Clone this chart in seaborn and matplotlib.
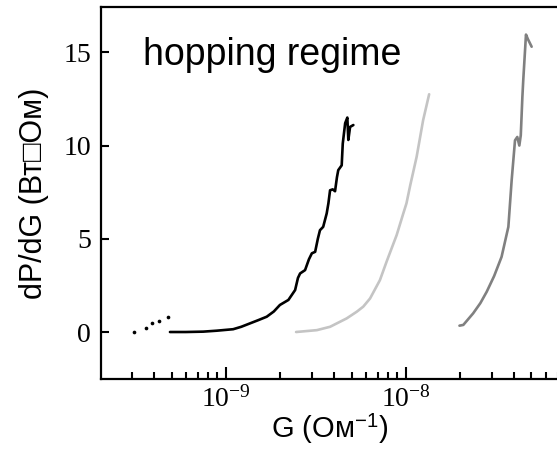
import math
import matplotlib
matplotlib.use("Agg")
import matplotlib.pyplot as plt
import matplotlib.ticker as mticker
import seaborn as sns

# ---- data ----
dots_G = [3.10e-10, 3.60e-10, 3.88e-10, 4.27e-10, 4.80e-10]
dots_P = [0.02, 0.23, 0.47, 0.61, 0.82]

black_G = [4.9e-10, 6.0e-10, 7.5e-10, 8.9e-10, 1.10e-9, 1.22e-9, 1.37e-9, 1.52e-9, 1.69e-9,
           1.85e-9, 2.00e-9,
           2.23e-9, 2.43e-9, 2.52e-9, 2.59e-9, 2.76e-9, 2.90e-9, 3.01e-9, 3.14e-9,
           3.25e-9, 3.34e-9, 3.48e-9, 3.64e-9, 3.72e-9, 3.80e-9, 3.93e-9, 4.05e-9,
           4.15e-9, 4.22e-9, 4.41e-9, 4.47e-9, 4.61e-9, 4.74e-9, 4.80e-9, 4.91e-9, 5.12e-9]
black_P = [0.0, 0.0, 0.02, 0.07, 0.15, 0.28, 0.47, 0.64, 0.82,
           1.1, 1.45,
           1.72, 2.25, 2.9, 3.14, 3.32, 3.9, 4.22, 4.3,
           5.0, 5.46, 5.64, 6.36, 6.9, 7.6, 7.65, 7.55,
           8.3, 8.68, 8.94, 10.1, 11.2, 11.5, 10.3, 11.0, 11.1]

light_G = [2.46e-9, 3.21e-9, 3.80e-9, 4.70e-9, 5.35e-9, 5.81e-9, 6.34e-9, 7.19e-9, 7.83e-9,
           8.91e-9, 9.70e-9, 1.01e-8, 1.06e-8, 1.15e-8, 1.25e-8, 1.35e-8]
light_P = [0.0, 0.1, 0.28, 0.73, 1.09, 1.36, 1.8, 2.78, 3.77,
           5.2, 6.36, 6.9, 7.87, 9.39, 11.36, 12.75]

dark_G = [1.99e-8, 2.09e-8, 2.37e-8, 2.60e-8, 2.82e-8, 3.10e-8, 3.41e-8, 3.72e-8, 3.88e-8, 4.05e-8,
          4.17e-8, 4.28e-8, 4.36e-8, 4.45e-8, 4.50e-8, 4.66e-8, 4.78e-8, 5.01e-8]
dark_P = [0.34, 0.38, 1.0, 1.55, 2.16, 3.0, 4.03, 5.64, 8.14, 10.28,
          10.46, 10.0, 10.55, 12.6, 13.5, 15.95, 15.7, 15.3]

y_ticks = [0, 5, 10, 15]
x_ticks = [1e-9, 1e-8]

sns.set_style("ticks")
plt.rcParams.update({
    "mathtext.fontset": "custom",
    "mathtext.rm": "Liberation Serif",
    "mathtext.it": "Liberation Serif:italic",
    "text.color": "black",
    "axes.labelcolor": "black",
    "axes.edgecolor": "black",
    "xtick.color": "black",
    "ytick.color": "black",
})

fig = plt.figure(figsize=(5.57, 4.5), dpi=100)
ax = fig.add_axes([100.7 / 557, 71 / 450, 458.3 / 557, 372 / 450])

sns.scatterplot(x=dots_G, y=dots_P, ax=ax, color="black", s=7, marker="o", linewidth=0)
sns.lineplot(x=black_G, y=black_P, ax=ax, color="black", lw=1.9, sort=False, estimator=None)
sns.lineplot(x=light_G, y=light_P, ax=ax, color="#c4c4c4", lw=1.9, sort=False, estimator=None)
sns.lineplot(x=dark_G, y=dark_P, ax=ax, color="#808080", lw=1.9, sort=False, estimator=None)

ax.set_xscale("log")
ax.set_xlim(2.02e-10, 7.11e-8)
ax.set_ylim(-2.52, 17.43)

ax.set_yticks(y_ticks)
ax.set_xticks(x_ticks)
ax.xaxis.set_minor_locator(mticker.LogLocator(base=10, subs=range(2, 10), numticks=20))
ax.xaxis.set_minor_formatter(mticker.NullFormatter())
ax.xaxis.set_major_formatter(mticker.FuncFormatter(
    lambda v, p: r"$\mathregular{10^{%d}}$" % round(math.log10(v))))

for lab in ax.get_yticklabels() + ax.get_xticklabels():
    lab.set_family("Liberation Serif")
    lab.set_fontsize(20)

ax.tick_params(axis="both", which="major", direction="in", width=1.5, length=6, pad=7)
ax.tick_params(axis="x", which="major", length=9, pad=5)
ax.tick_params(axis="x", which="minor", direction="in", width=1.5, length=5)
ax.tick_params(axis="y", which="minor", left=False)

for s in ax.spines.values():
    s.set_linewidth(1.6)

ax.set_ylabel("dP/dG (Вт\u25a1Ом)", family=["Liberation Sans", "DejaVu Sans"],
              fontsize=22, labelpad=10)
ax.set_xlabel("G (Ом$^{\\mathregular{-1}}$)", family=["Liberation Sans", "DejaVu Sans"],
              fontsize=21, labelpad=0)

ax.text(0.092, 0.844, "hopping regime", transform=ax.transAxes,
        family=["Liberation Sans", "DejaVu Sans"], fontsize=27, va="baseline", ha="left")

fig.savefig("out.png", dpi=100)
